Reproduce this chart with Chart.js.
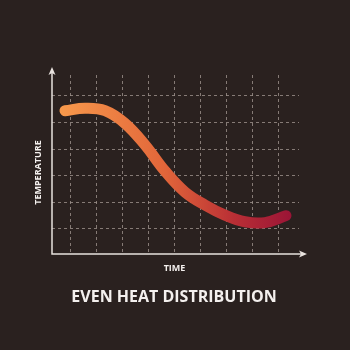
<!DOCTYPE html>
<html>
<head>
<meta charset="utf-8">
<script src="https://cdn.jsdelivr.net/npm/chart.js@4/dist/chart.umd.min.js"></script>
<style>
  html, body { margin: 0; padding: 0; background: #2a211f; }
  #wrap { width: 350px; height: 350px; }
</style>
</head>
<body>
<div id="wrap"><canvas id="heat_chart"></canvas></div>
<script>
// time (grid units) and temperature (grid units)
const timeValues = [-0.23, 0.54, 1.31, 2.08, 2.85, 3.62, 4.38, 5.15, 5.92, 6.69, 7.46, 8.27];
const temperatureValues = [4.44, 4.53, 4.44, 3.96, 3.15, 2.17, 1.39, 0.9, 0.52, 0.27, 0.24, 0.5];
const timeTicks = [0, 1, 2, 3, 4, 5, 6, 7, 8];
const temperatureTicks = [0, 1, 2, 3, 4, 5];

const chartTitle = "EVEN HEAT DISTRIBUTION";
const xLabel = "TIME";
const yLabel = "TEMPERATURE";

const axisColor = "#e8e2de";
const textColor = "#f4f0ee";
const gridColor = "rgba(158, 146, 140, 0.8)";

// axes with arrow heads plus the axis labels and the title
const arrowAxes = {
  id: "arrowAxes",
  afterDraw: (chart) => {
    const { ctx, chartArea } = chart;
    const x0 = chartArea.left;
    const y0 = chartArea.bottom;
    const yTop = chartArea.top - 8;
    const xEnd = chartArea.right + 8;
    ctx.save();
    ctx.strokeStyle = axisColor;
    ctx.fillStyle = axisColor;
    ctx.lineWidth = 1.5;
    ctx.beginPath();
    ctx.moveTo(x0, yTop + 2);
    ctx.lineTo(x0, y0);
    ctx.lineTo(xEnd - 2, y0);
    ctx.stroke();
    // up arrow
    ctx.beginPath();
    ctx.moveTo(x0, yTop);
    ctx.lineTo(x0 + 3.5, yTop + 8);
    ctx.lineTo(x0, yTop + 6);
    ctx.lineTo(x0 - 3.5, yTop + 8);
    ctx.closePath();
    ctx.fill();
    // right arrow
    ctx.beginPath();
    ctx.moveTo(xEnd, y0);
    ctx.lineTo(xEnd - 8, y0 - 3.5);
    ctx.lineTo(xEnd - 6, y0);
    ctx.lineTo(xEnd - 8, y0 + 3.5);
    ctx.closePath();
    ctx.fill();

    ctx.fillStyle = textColor;
    ctx.textAlign = "center";
    ctx.textBaseline = "middle";
    ctx.font = "bold 9px 'Open Sans'";
    ctx.fillText(xLabel, 174.5, y0 + 14);
    ctx.save();
    ctx.translate(38.5, 172.5);
    ctx.rotate(-Math.PI / 2);
    ctx.fillText(yLabel, 0, 0);
    ctx.restore();
    ctx.font = "bold 16px 'Open Sans'";
    ctx.fillText(chartTitle, 174, 297.5);
    ctx.restore();
  },
};

function heatGradient(context) {
  const { chart } = context;
  const { ctx, chartArea } = chart;
  if (!chartArea) return "#e0603a";
  const xs = chart.scales.x;
  const g = ctx.createLinearGradient(
    xs.getPixelForValue(timeValues[0]) - 6, 0,
    xs.getPixelForValue(timeValues[timeValues.length - 1]) + 6, 0
  );
  g.addColorStop(0, "#f89a4c");
  g.addColorStop(0.45, "#e2663a");
  g.addColorStop(0.75, "#b92f35");
  g.addColorStop(1, "#9a1436");
  return g;
}

const points = timeValues.map((t, i) => ({ x: t, y: temperatureValues[i] }));

new Chart(document.getElementById("heat_chart"), {
  type: "line",
  data: {
    datasets: [
      {
        label: "Temperature",
        data: points,
        borderColor: heatGradient,
        borderWidth: 11,
        borderCapStyle: "round",
        borderJoinStyle: "round",
        tension: 0.4,
        pointRadius: 0,
        fill: false,
      },
    ],
  },
  options: {
    responsive: true,
    maintainAspectRatio: false,
    animation: false,
    layout: { padding: { left: 52, right: 51, top: 75, bottom: 96 } },
    plugins: {
      legend: { display: false },
      tooltip: { enabled: false },
    },
    scales: {
      x: {
        type: "linear",
        min: -0.73,
        max: 8.77,
        afterBuildTicks: (scale) => {
          scale.ticks = timeTicks.map((v) => ({ value: v }));
        },
        ticks: { display: false },
        grid: { color: gridColor, lineWidth: 1, drawTicks: false },
        border: { display: false, dash: [3, 3] },
      },
      y: {
        type: "linear",
        min: -0.94,
        max: 5.78,
        afterBuildTicks: (scale) => {
          scale.ticks = temperatureTicks.map((v) => ({ value: v }));
        },
        ticks: { display: false },
        grid: { color: gridColor, lineWidth: 1, drawTicks: false },
        border: { display: false, dash: [3, 3] },
      },
    },
  },
  plugins: [arrowAxes],
});
</script>
</body>
</html>
